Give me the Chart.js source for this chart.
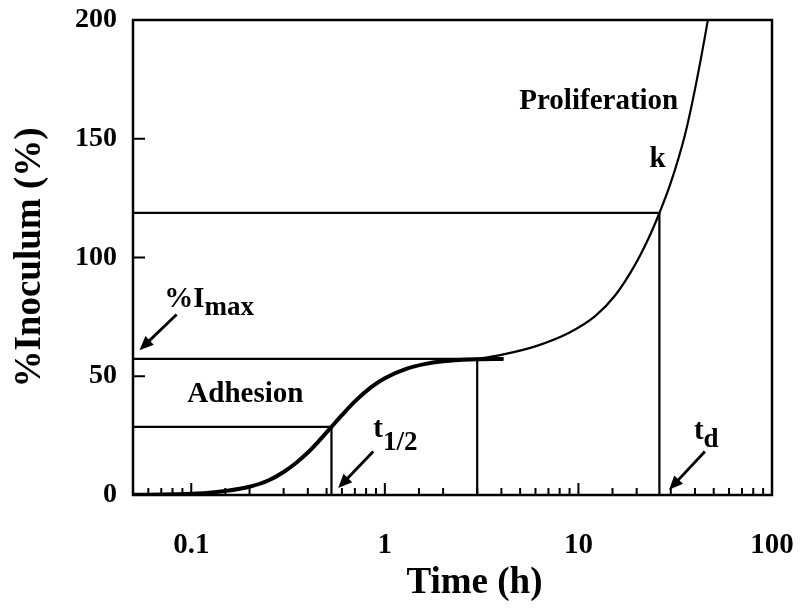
<!DOCTYPE html>
<html>
<head>
<meta charset="utf-8">
<script src="https://cdn.jsdelivr.net/npm/chart.js@4.4.1/dist/chart.umd.min.js"></script>
<style>
  body { margin: 0; background: #fff; }
  #wrap { width: 800px; height: 608px; position: relative; }
</style>
</head>
<body>
<div id="wrap"><canvas id="myChart"></canvas></div>
<script>
// Datos (tiempo en h, % de inoculo)
const timeAdhesion = [0.05, 0.07, 0.1, 0.12, 0.15, 0.2, 0.25, 0.3, 0.35, 0.4, 0.45, 0.53, 0.6, 0.7, 0.85, 1.0, 1.3, 1.6, 2.0, 2.5, 3.0, 4.1];
const inocAdhesion = [0.1, 0.2, 0.55, 0.88, 1.7, 3.5, 6.1, 9.7, 13.7, 17.9, 22.2, 28.7, 33.6, 39.4, 45.4, 49.2, 53.2, 55.1, 56.3, 56.9, 57.2, 57.3];

const timeProlif = [3.0, 4.1, 6.1, 8.9, 12.2, 15.5, 19.6, 23.0, 26.2, 30.0, 35.5, 40.0, 46.5, 50.0];
const inocProlif = [57.3, 59.2, 62.8, 68.2, 75.3, 84.1, 96.9, 108.0, 118.75, 131.5, 151.6, 170.8, 199.4, 215];

// Parametros marcados
const tMin = 0.05;
const tHalf = 0.53;
const halfValue = 28.7;
const imaxValue = 57.3;
const tLag = 3.0;
const tPlateauEnd = 4.1;
const tDouble = 26.2;
const doubleValue = 118.75;

const xTickLabels = [0.1, 1, 10, 100];
const yTickValues = [0, 50, 100, 150, 200];
const xTitle = 'Time (h)';
const yTitle = '%Inoculum (%)';

const serif = '"Liberation Serif", "Times New Roman", serif';

// Lineas guia a partir de los parametros
const guides = [
  [[tMin, halfValue], [tHalf, halfValue], [tHalf, 0]],
  [[tMin, imaxValue], [tPlateauEnd, imaxValue]],
  [[tLag, imaxValue], [tLag, 0]],
  [[tMin, doubleValue], [tDouble, doubleValue], [tDouble, 0]]
];

// Flechas y textos en coordenadas de datos
const arrows = [
  { from: [0.084, 76], to: [0.054, 61] },
  { from: [0.871, 18.3], to: [0.574, 2.9] },
  { from: [45.0, 18.3], to: [29.4, 2.2] }
];
const labels = [
  { at: [4.95, 162.7], text: 'Proliferation' },
  { at: [25.6, 138], text: 'k', align: 'center' },
  { at: [0.0954, 39.3], text: 'Adhesion' },
  { at: [0.0725, 79.2], text: '%I', sub: 'max', subDy: 8 },
  { at: [0.871, 24.3], text: 't', sub: '1/2', subDy: 13 },
  { at: [39.5, 23.4], text: 't', sub: 'd', subDy: 8 }
];

const toXY = (xs, ys) => xs.map((x, i) => ({ x: x, y: ys[i] }));

const datasets = [
  {
    data: toXY(timeAdhesion, inocAdhesion),
    borderColor: '#000', borderWidth: 4, pointRadius: 0,
    cubicInterpolationMode: 'monotone'
  },
  {
    data: toXY(timeProlif, inocProlif),
    borderColor: '#000', borderWidth: 2.2, pointRadius: 0,
    cubicInterpolationMode: 'monotone'
  }
];
guides.forEach(g => {
  datasets.push({
    data: g.map(p => ({ x: p[0], y: p[1] })),
    borderColor: '#000', borderWidth: 2.2, pointRadius: 0, tension: 0
  });
});

const decorPlugin = {
  id: 'decor',
  afterDraw(chart) {
    const ctx = chart.ctx;
    const area = chart.chartArea;
    const xs = chart.scales.x;
    const ys = chart.scales.y;
    ctx.save();
    ctx.strokeStyle = '#000';
    ctx.fillStyle = '#000';

    // marco
    ctx.lineWidth = 2.5;
    ctx.strokeRect(area.left, area.top, area.right - area.left, area.bottom - area.top);

    // marcas hacia adentro
    ctx.lineWidth = 2;
    ctx.beginPath();
    ys.ticks.forEach(t => {
      const py = ys.getPixelForValue(t.value);
      ctx.moveTo(area.left, py);
      ctx.lineTo(area.left + 12, py);
    });
    xs.ticks.forEach(t => {
      const px = xs.getPixelForValue(t.value);
      if (px <= area.left + 1 || px >= area.right - 1) return;
      const lg = Math.log10(t.value);
      const len = Math.abs(lg - Math.round(lg)) < 1e-6 ? 12 : 7;
      ctx.moveTo(px, area.bottom);
      ctx.lineTo(px, area.bottom - len);
    });
    ctx.stroke();

    // flechas
    arrows.forEach(a => {
      const x1 = xs.getPixelForValue(a.from[0]), y1 = ys.getPixelForValue(a.from[1]);
      const x2 = xs.getPixelForValue(a.to[0]), y2 = ys.getPixelForValue(a.to[1]);
      const ang = Math.atan2(y2 - y1, x2 - x1);
      const hl = 14, hw = 6;
      ctx.lineWidth = 2.8;
      ctx.beginPath();
      ctx.moveTo(x1, y1);
      ctx.lineTo(x2 - Math.cos(ang) * hl * 0.8, y2 - Math.sin(ang) * hl * 0.8);
      ctx.stroke();
      ctx.beginPath();
      ctx.moveTo(x2, y2);
      ctx.lineTo(x2 - Math.cos(ang) * hl - Math.sin(ang) * hw, y2 - Math.sin(ang) * hl + Math.cos(ang) * hw);
      ctx.lineTo(x2 - Math.cos(ang) * hl + Math.sin(ang) * hw, y2 - Math.sin(ang) * hl - Math.cos(ang) * hw);
      ctx.closePath();
      ctx.fill();
    });

    // textos
    ctx.textBaseline = 'alphabetic';
    labels.forEach(l => {
      const px = xs.getPixelForValue(l.at[0]);
      const py = ys.getPixelForValue(l.at[1]);
      ctx.font = 'bold 29px ' + serif;
      ctx.textAlign = l.align || 'left';
      ctx.fillText(l.text, px, py);
      if (l.sub) {
        const w = ctx.measureText(l.text).width;
        ctx.font = 'bold 27px ' + serif;
        ctx.textAlign = 'left';
        ctx.fillText(l.sub, px + w, py + l.subDy);
      }
    });

    // titulo del eje x (desplazado como en la figura)
    ctx.font = 'bold 37px ' + serif;
    ctx.textAlign = 'center';
    ctx.fillText(xTitle, (area.left + area.right) / 2 + 22, chart.height - 15);
    ctx.restore();
  }
};

const ctx = document.getElementById('myChart').getContext('2d');
const myChart = new Chart(ctx, {
  type: 'line',
  data: { datasets: datasets },
  options: {
    responsive: true,
    maintainAspectRatio: false,
    animation: false,
    layout: { padding: { top: 20, right: 28, left: 0, bottom: 0 } },
    plugins: { legend: { display: false }, tooltip: { enabled: false } },
    scales: {
      x: {
        type: 'logarithmic',
        min: tMin,
        max: 100,
        grid: { display: false, drawTicks: false },
        border: { display: false },
        afterFit: scale => {
          scale.height = 113;
          scale.paddingLeft = 0;
          scale.paddingRight = 0;
        },
        ticks: {
          autoSkip: false,
          maxRotation: 0,
          padding: 33,
          color: '#000',
          font: { family: serif, size: 29, weight: 'bold' },
          callback: v => xTickLabels.some(m => Math.abs(m - v) < 1e-9 * Math.max(1, m)) ? String(v) : ''
        },
        title: { display: false }
      },
      y: {
        min: 0,
        max: 200,
        grid: { display: false, drawTicks: false },
        border: { display: false },
        afterFit: scale => {
          scale.width = 133;
          scale.paddingTop = 0;
          scale.paddingBottom = 0;
        },
        afterBuildTicks: scale => { scale.ticks = yTickValues.map(v => ({ value: v })); },
        ticks: {
          padding: 16,
          color: '#000',
          font: { family: serif, size: 28, weight: 'bold' }
        },
        title: {
          display: true,
          text: yTitle,
          color: '#000',
          font: { family: serif, size: 37, weight: 'bold' },
          padding: { top: 8, bottom: 0 }
        }
      }
    }
  },
  plugins: [decorPlugin]
});
</script>
</body>
</html>
